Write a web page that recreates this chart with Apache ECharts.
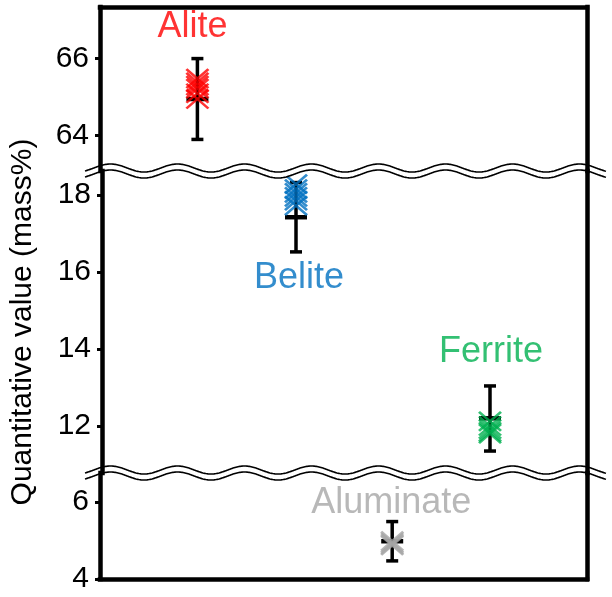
<!DOCTYPE html>
<html>
<head>
<meta charset="utf-8">
<script src="https://cdn.jsdelivr.net/npm/echarts@6/dist/echarts.min.js"></script>
<style>
html,body{margin:0;padding:0;background:#fff;}
#chart{width:612px;height:597px;}
</style>
</head>
<body>
<div id="chart"></div>
<script>
// ---------------- data ----------------
const categories = ['Alite', 'Belite', 'Ferrite', 'Aluminate'];
const categoryX = [1, 2, 4, 3];
const categoryPanel = [0, 1, 1, 2];
const aliteValues = [65.48, 65.38, 65.30, 65.22, 65.10, 64.95];
const beliteValues = [18.28, 18.15, 18.05, 17.95, 17.85, 17.72];
const ferriteValues = [12.12, 12.00, 11.92, 11.85, 11.80];
const aluminateValues = [4.98, 4.94, 4.90, 4.87];
const errLow = [63.90, 16.52, 11.35, 4.47];
const errMean = [64.95, 17.42, 12.20, 4.98];
const errHigh = [66.00, 18.32, 13.04, 5.49];
const labelPos = [[0.95, 66.82], [2.03, 15.84], [4.01, 13.92], [2.99, 5.97]];
const panelMin = [63.08, 10.78, 4];
const panelMax = [67.34, 18.62, 6.75];
const panelTicks = [[64, 66], [12, 14, 16, 18], [4, 6]];
const xMin = 0, xMax = 5;
const yTitle = 'Quantitative value (mass%)';

// ---------------- styles / layout ----------------
const colors = ['#FF0000', '#0070C0', '#00B050', '#A6A6A6'];
const FONT = 'Liberation Sans, Arial, sans-serif';
const gridLeft = 100, gridRight = 25;
const panelTop = [7, 171, 473];
const panelHeight = [164, 302, 106];
const frameW = 4.5;

const allValues = [aliteValues, beliteValues, ferriteValues, aluminateValues];

const chart = echarts.init(document.getElementById('chart'), null, {renderer: 'canvas'});

const grids = [], xAxes = [], yAxes = [];
for (let p = 0; p < 3; p++) {
  grids.push({left: gridLeft, right: gridRight, top: panelTop[p], height: panelHeight[p], show: false});
  xAxes.push({
    type: 'value', gridIndex: p, min: xMin, max: xMax,
    show: p !== 1,
    position: p === 0 ? 'top' : 'bottom',
    z: 10,
    axisLine: {show: true, onZero: false, lineStyle: {color: '#000', width: frameW, cap: 'square'}},
    axisTick: {show: false}, axisLabel: {show: false}, splitLine: {show: false}
  });
  yAxes.push({
    type: 'value', gridIndex: p, min: panelMin[p], max: panelMax[p], position: 'left',
    z: 10,
    name: p === 1 ? yTitle : '',
    nameLocation: 'middle', nameRotate: 90, nameGap: 64,
    nameTextStyle: {fontFamily: FONT, fontSize: 30, color: '#000'},
    axisLine: {show: true, onZero: false, lineStyle: {color: '#000', width: frameW, cap: 'square'}},
    axisTick: {show: true, customValues: panelTicks[p], length: 5, lineStyle: {color: '#000', width: 3}},
    axisLabel: {show: true, customValues: panelTicks[p], margin: 11, fontFamily: FONT, fontSize: 30, color: '#000'},
    splitLine: {show: false}
  });
  yAxes.push({
    type: 'value', gridIndex: p, min: panelMin[p], max: panelMax[p], position: 'right',
    z: 10,
    axisLine: {show: true, onZero: false, lineStyle: {color: '#000', width: frameW, cap: 'square'}},
    axisTick: {show: false}, axisLabel: {show: false}, splitLine: {show: false}
  });
}

const series = [];
categories.forEach((name, i) => {
  const p = categoryPanel[i];
  // error bar
  series.push({
    type: 'custom', name: name + ' error', xAxisIndex: p, yAxisIndex: p * 2, z: 2,
    data: [[categoryX[i], errLow[i], errMean[i], errHigh[i]]],
    renderItem: function (params, api) {
      const x = api.value(0);
      const lo = api.coord([x, api.value(1)]);
      const mn = api.coord([x, api.value(2)]);
      const hi = api.coord([x, api.value(3)]);
      const st = {stroke: '#000', lineWidth: 3.5};
      return {
        type: 'group',
        children: [
          {type: 'line', shape: {x1: lo[0], y1: lo[1], x2: hi[0], y2: hi[1]}, style: st},
          {type: 'line', shape: {x1: lo[0] - 6, y1: lo[1], x2: lo[0] + 6, y2: lo[1]}, style: st},
          {type: 'line', shape: {x1: hi[0] - 6, y1: hi[1], x2: hi[0] + 6, y2: hi[1]}, style: st},
          {type: 'line', shape: {x1: mn[0] - 11, y1: mn[1], x2: mn[0] + 11, y2: mn[1]}, style: {stroke: '#000', lineWidth: 4.5}}
        ]
      };
    }
  });
  // measured points
  series.push({
    type: 'scatter', name: name, xAxisIndex: p, yAxisIndex: p * 2, z: 3,
    symbol: 'path://M0,0L20,18M20,0L0,18',
    symbolSize: [22, 19],
    itemStyle: {color: 'transparent', borderColor: colors[i], borderWidth: 2.6},
    data: allValues[i].map(v => [categoryX[i], v]),
    silent: true
  });
  // label
  series.push({
    type: 'scatter', name: name + ' label', xAxisIndex: p, yAxisIndex: p * 2, z: 4,
    symbolSize: 0,
    label: {show: true, position: 'inside', formatter: name, fontFamily: FONT, fontSize: 36, color: colors[i]},
    data: [labelPos[i]],
    silent: true
  });
});

// break marks (decoration) at panel boundaries
function wave(yc) {
  const x0 = 85, x1 = 606, period = 67, amp = 4, sep = 3, phase = 110.5;
  const up = [], lo = [];
  for (let x = x0; x <= x1; x += 1) {
    const d = -amp * Math.cos(2 * Math.PI * (x - phase) / period);
    up.push([x, yc + d - sep]);
    lo.push([x, yc + d + sep]);
  }
  return [
    {type: 'polygon', z: 5, shape: {points: up.concat(lo.slice().reverse())}, style: {fill: '#fff', stroke: null}},
    {type: 'polyline', z: 6, shape: {points: up}, style: {stroke: '#000', lineWidth: 1.6, fill: null}},
    {type: 'polyline', z: 6, shape: {points: lo}, style: {stroke: '#000', lineWidth: 1.6, fill: null}}
  ];
}
const breaks = [panelTop[1], panelTop[2]];
const graphicEls = [];
breaks.forEach(y => graphicEls.push(...wave(y)));

chart.setOption({
  backgroundColor: '#fff',
  animation: false,
  grid: grids,
  xAxis: xAxes,
  yAxis: yAxes,
  series: series,
  graphic: {elements: graphicEls}
});
</script>
</body>
</html>
